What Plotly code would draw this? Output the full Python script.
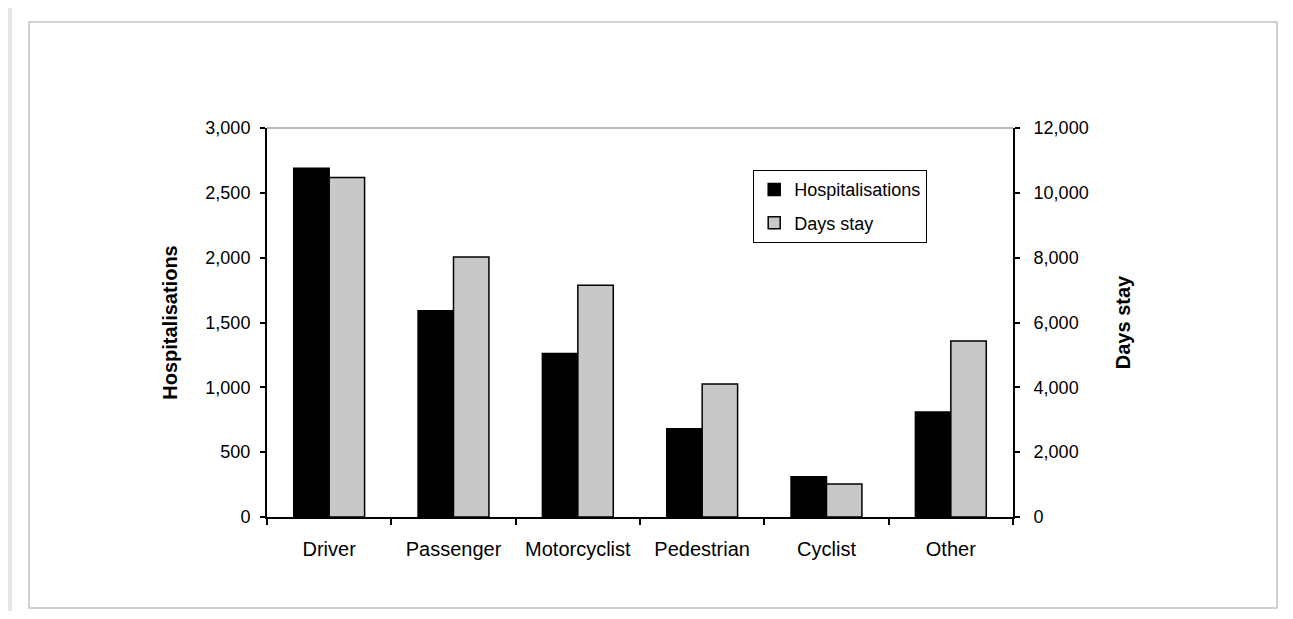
import plotly.graph_objects as go

categories = ["Driver", "Passenger", "Motorcyclist", "Pedestrian", "Cyclist", "Other"]
hospitalisations = [2690, 1590, 1260, 680, 310, 810]
days_stay = [10470, 8020, 7150, 4100, 1020, 5430]
hosp_ticks = [0, 500, 1000, 1500, 2000, 2500, 3000]
days_ticks = [0, 2000, 4000, 6000, 8000, 10000, 12000]

OFF = 8  # page body margin of the browser
W, H = 1293 - 2 * OFF, 619 - 2 * OFF
# plot area in screen pixels -> figure pixels
L, R, T, B = 267 - OFF, 1013 - OFF, 128 - OFF, 517 - OFF


def px(x):
    """screen x -> paper x"""
    return (x - OFF - L) / (R - L)


def py(y):
    """screen y -> paper y"""
    return (B - (y - OFF)) / (B - T)


FONT = "Liberation Sans, Arial, sans-serif"

fig = go.Figure()
fig.add_trace(go.Bar(
    x=categories, y=hospitalisations, name="Hospitalisations",
    marker=dict(color="#000000", line=dict(color="#000000", width=1.5)),
    offsetgroup="a", legendgroup="a",
))
fig.add_trace(go.Bar(
    x=categories, y=days_stay, name="Days stay", yaxis="y2",
    marker=dict(color="#c8c8c8", line=dict(color="#000000", width=1.5)),
    offsetgroup="b", legendgroup="b",
))

fig.update_layout(
    width=W, height=H, autosize=False,
    margin=dict(l=L, r=W - R, t=T, b=H - B, pad=0),
    paper_bgcolor="#ffffff", plot_bgcolor="#ffffff",
    font=dict(family=FONT, size=18, color="#000000"),
    barmode="group", bargap=0.43, bargroupgap=0,
    xaxis=dict(
        showline=True, linecolor="#000000", linewidth=2,
        ticks="outside", tickson="boundaries", ticklen=6, tickwidth=1.5, tickcolor="#000000",
        tickfont=dict(size=20), ticklabelstandoff=13, showgrid=False, zeroline=False,
    ),
    yaxis=dict(
        range=[0, 3000], tickvals=hosp_ticks, tickformat=",",
        showline=True, linecolor="#000000", linewidth=2,
        ticks="outside", ticklen=5, tickwidth=1.5, tickcolor="#000000",
        ticklabelstandoff=6, showgrid=False, zeroline=False,
        title=dict(text="<b>Hospitalisations</b>", font=dict(size=20), standoff=22),
    ),
    yaxis2=dict(
        overlaying="y", side="right",
        range=[0, 12000], tickvals=days_ticks, tickformat=",",
        showline=True, linecolor="#000000", linewidth=2,
        ticks="outside", ticklen=5, tickwidth=1.5, tickcolor="#000000",
        ticklabelstandoff=10, showgrid=False, zeroline=False,
        title=dict(text="<b>Days stay</b>", font=dict(size=20), standoff=28),
    ),
    legend=dict(
        x=px(753), y=py(170), xanchor="left", yanchor="top",
        bgcolor="#ffffff", bordercolor="#000000", borderwidth=1.2,
        font=dict(size=18), traceorder="grouped", tracegroupgap=7,
    ),
    showlegend=True,
    shapes=[
        # grey page strips (left and top) of the reference
        dict(type="rect", xref="paper", yref="paper", layer="below",
             x0=px(0), x1=px(12), y0=py(640), y1=py(0),
             fillcolor="#e6e7e9", line=dict(width=0)),
        dict(type="rect", xref="paper", yref="paper", layer="below",
             x0=px(0), x1=px(1300), y0=py(7), y1=py(0),
             fillcolor="#e6e7e9", line=dict(width=0)),
        # panel border
        dict(type="rect", xref="paper", yref="paper", layer="below",
             x0=px(29), x1=px(1277), y0=py(608), y1=py(22),
             fillcolor="rgba(0,0,0,0)", line=dict(color="#c3c3c3", width=1.5)),
        # grey top edge of plot area
        dict(type="line", xref="paper", yref="paper", layer="above",
             x0=0, x1=1, y0=1, y1=1, line=dict(color="#a0a0a0", width=1.5)),
    ],
)

fig.write_html("out.html")
